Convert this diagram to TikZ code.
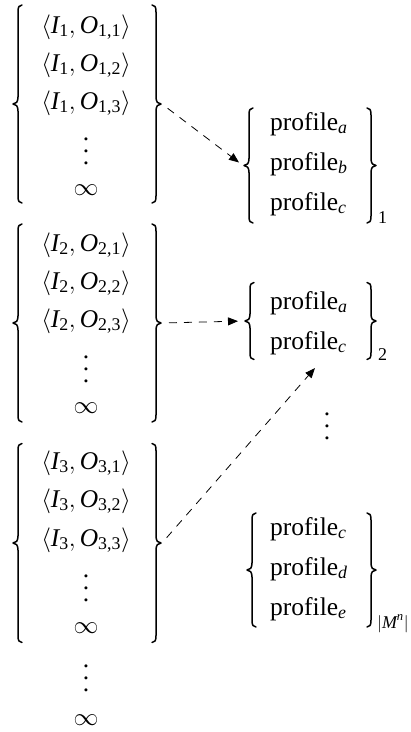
\documentclass[tikz,border=0pt]{standalone}
\usepackage{amsmath}
\usepackage{fontspec}
\setmainfont{Liberation Serif}
\usetikzlibrary{arrows.meta}
\newcommand{\prof}[1]{profile$_{\text{\itshape #1}}$}
\newcommand{\pairIO}[2]{$\langle\text{\itshape I}_{\text{#1}},\text{\itshape O}_{\text{#1,#2}}\rangle$}
\newcommand{\tallvdots}{\vbox{\baselineskip=12pt\lineskiplimit=0pt\hbox{.}\hbox{.}\hbox{.}}}
\newcommand{\lbraceon}[1]{%
 \draw[bracestroke] ([shift={(10pt,-1pt)}]#1.north west)
  .. controls ([shift={(7pt,-1pt)}]#1.north west) and ([shift={(6pt,-3pt)}]#1.north west) .. ([shift={(6pt,-8pt)}]#1.north west)
  -- ([shift={(6pt,7pt)}]#1.west)
  .. controls ([shift={(6pt,2pt)}]#1.west) and ([shift={(4pt,0pt)}]#1.west) .. ([shift={(1pt,0pt)}]#1.west)
  .. controls ([shift={(4pt,0pt)}]#1.west) and ([shift={(6pt,-2pt)}]#1.west) .. ([shift={(6pt,-7pt)}]#1.west)
  -- ([shift={(6pt,8pt)}]#1.south west)
  .. controls ([shift={(6pt,3pt)}]#1.south west) and ([shift={(7pt,1pt)}]#1.south west) .. ([shift={(10pt,1pt)}]#1.south west);}
\newcommand{\rbraceon}[1]{%
 \draw[bracestroke] ([shift={(-10pt,-1pt)}]#1.north east)
  .. controls ([shift={(-7pt,-1pt)}]#1.north east) and ([shift={(-6pt,-3pt)}]#1.north east) .. ([shift={(-6pt,-8pt)}]#1.north east)
  -- ([shift={(-6pt,7pt)}]#1.east)
  .. controls ([shift={(-6pt,2pt)}]#1.east) and ([shift={(-4pt,0pt)}]#1.east) .. ([shift={(-1pt,0pt)}]#1.east)
  .. controls ([shift={(-4pt,0pt)}]#1.east) and ([shift={(-6pt,-2pt)}]#1.east) .. ([shift={(-6pt,-7pt)}]#1.east)
  -- ([shift={(-6pt,8pt)}]#1.south east)
  .. controls ([shift={(-6pt,3pt)}]#1.south east) and ([shift={(-7pt,1pt)}]#1.south east) .. ([shift={(-10pt,1pt)}]#1.south east);}
\begin{document}
\begin{tikzpicture}[x=1pt,y=-1pt,
  bracebox/.style={minimum width=12pt, minimum height=#1, inner sep=0pt, outer sep=0pt},
  bracestroke/.style={line width=1.5pt, line cap=round, line join=round},
  pairtxt/.style={anchor=base, inner sep=0pt, font=\fontsize{25.5}{30}\selectfont},
  dotstxt/.style={anchor=center, inner sep=0pt, font=\fontsize{25.5}{30}\selectfont},
  proftxt/.style={anchor=base west, inner sep=0pt, font=\fontsize{25.5}{30}\selectfont},
  subtxt/.style={anchor=base west, inner sep=0pt, font=\fontsize{18}{20}\selectfont},
  conn/.style={line width=0.8pt, dash pattern=on 8pt off 7pt, -{Triangle[length=10pt,width=8pt]}}]
\useasboundingbox (0,0) rectangle (411,732);
% left column, group 1
\node[bracebox=200pt] (g1L) at (18,104) {};
\node[bracebox=200pt] (g1R) at (156,104) {};
\node[pairtxt] (p11) at (86,33) {\pairIO{1}{1}};
\node[pairtxt] (p12) at (86,71) {\pairIO{1}{2}};
\node[pairtxt] (p13) at (86,109) {\pairIO{1}{3}};
\node[dotstxt] (d1) at (86,151) {\tallvdots};
\node[pairtxt] (i1) at (86,195) {$\infty$};
% group 2
\node[bracebox=200pt] (g2L) at (18,323) {};
\node[bracebox=200pt] (g2R) at (156,323) {};
\node[pairtxt] (p21) at (86,251) {\pairIO{2}{1}};
\node[pairtxt] (p22) at (86,289) {\pairIO{2}{2}};
\node[pairtxt] (p23) at (86,327) {\pairIO{2}{3}};
\node[dotstxt] (d2) at (86,369) {\tallvdots};
\node[pairtxt] (i2) at (86,413) {$\infty$};
% group 3
\node[bracebox=201pt] (g3L) at (18,543) {};
\node[bracebox=201pt] (g3R) at (156,543) {};
\node[pairtxt] (p31) at (86,469) {\pairIO{3}{1}};
\node[pairtxt] (p32) at (86,507) {\pairIO{3}{2}};
\node[pairtxt] (p33) at (86,546) {\pairIO{3}{3}};
\node[dotstxt] (d3) at (86,588) {\tallvdots};
\node[pairtxt] (i3) at (86,633) {$\infty$};
% trailing
\node[dotstxt] (d4) at (86,678) {\tallvdots};
\node[pairtxt] (i4) at (86,725) {$\infty$};
% right groups
\node[bracebox=117pt] (gAL) at (249,165.5) {};
\node[bracebox=117pt] (gAR) at (371,165.5) {};
\node[proftxt] (a1) at (270,130) {\prof{a}};
\node[proftxt] (a2) at (270,170) {\prof{b}};
\node[proftxt] (a3) at (270,210) {\prof{c}};
\node[subtxt] (sA) at (378,223) {1};
\node[bracebox=79pt] (gBL) at (250,321) {};
\node[bracebox=79pt] (gBR) at (371,321) {};
\node[proftxt] (b1) at (270,309) {\prof{a}};
\node[proftxt] (b2) at (270,349) {\prof{c}};
\node[subtxt] (sB) at (378,360) {2};
\node[dotstxt] (dR) at (327,426) {\tallvdots};
\node[bracebox=116pt] (gCL) at (252,570) {};
\node[bracebox=116pt] (gCR) at (371,570) {};
\node[proftxt] (c1) at (270,535) {\prof{c}};
\node[proftxt] (c2) at (270,575) {\prof{d}};
\node[proftxt] (c3) at (270,615) {\prof{e}};
\node[subtxt] (sC) at (377,628) {$|\text{\itshape M}^{\text{\itshape n}}|$};
% braces
\lbraceon{g1L}\rbraceon{g1R}
\lbraceon{g2L}\rbraceon{g2R}
\lbraceon{g3L}\rbraceon{g3R}
\lbraceon{gAL}\rbraceon{gAR}
\lbraceon{gBL}\rbraceon{gBR}
\lbraceon{gCL}\rbraceon{gCR}
% connectors
\coordinate (t3) at (315,368);
\draw[conn, shorten <=7pt, shorten >=5pt] (g1R.east) -- (gAL.west);
\draw[conn, shorten <=7pt, shorten >=6pt] (g2R.east) -- (gBL.west);
\draw[conn, shorten <=7pt] (g3R.east) -- (t3);
\end{tikzpicture}
\end{document}
